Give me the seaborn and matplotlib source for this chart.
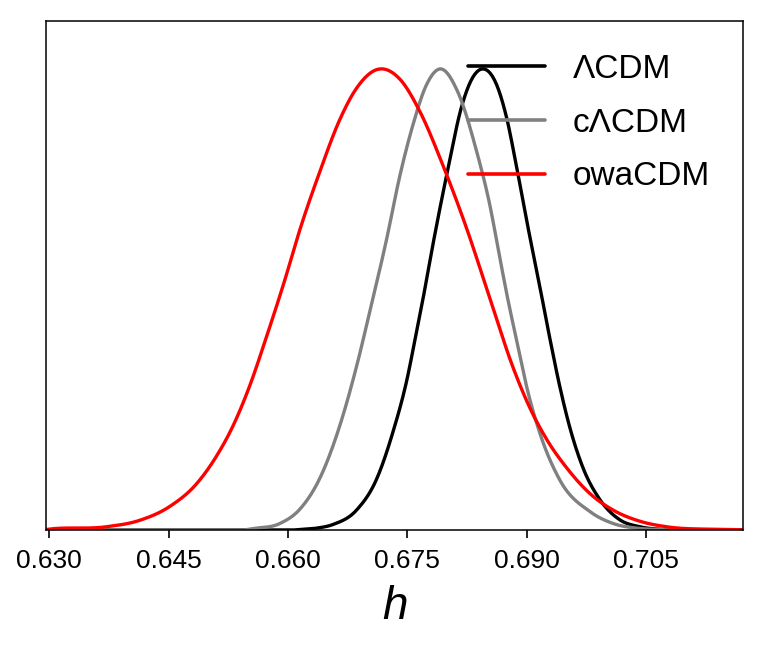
import matplotlib
matplotlib.use("Agg")
import matplotlib.pyplot as plt
import seaborn as sns
import pandas as pd
import numpy as np

# ---- data (h, normalised posterior) ----
lcdm_h = [0.6296, 0.6615, 0.6636, 0.66568, 0.66862, 0.67114, 0.67323, 0.67491, 0.67617, 0.6770,
          0.67826, 0.6801, 0.68183, 0.68328, 0.68447, 0.68623, 0.68748, 0.68874, 0.6900,
          0.69142, 0.69293, 0.69419, 0.69544, 0.69711, 0.69921, 0.70173, 0.70424, 0.70717, 0.7172]
lcdm_p = [0.0, 0.001, 0.004, 0.012, 0.043, 0.110, 0.214, 0.322, 0.430, 0.503,
          0.622, 0.782, 0.918, 0.983, 1.0, 0.966, 0.895, 0.788, 0.672,
          0.550, 0.415, 0.310, 0.222, 0.134, 0.066, 0.022, 0.007, 0.001, 0.0]

clcdm_h = [0.6296, 0.65562, 0.65898, 0.6615, 0.66401, 0.66652, 0.66862, 0.6703, 0.6724,
           0.67407, 0.67574, 0.67743, 0.6791, 0.68136, 0.68371, 0.68538, 0.68664, 0.68765,
           0.68874, 0.69016, 0.69167, 0.69419, 0.69796, 0.70089, 0.70383, 0.70676, 0.7172]
clcdm_p = [0.0, 0.003, 0.014, 0.045, 0.112, 0.226, 0.354, 0.474, 0.630,
           0.768, 0.880, 0.966, 1.0, 0.950, 0.822, 0.705, 0.590, 0.500,
           0.412, 0.300, 0.210, 0.108, 0.040, 0.014, 0.004, 0.001, 0.0]

owa_h = [0.6296, 0.63006, 0.63719, 0.64138, 0.64515, 0.64851, 0.65102, 0.65311, 0.65521,
         0.65731, 0.65961, 0.6615, 0.66401, 0.66652, 0.66862, 0.67155, 0.67407, 0.67658,
         0.67951, 0.68245, 0.68538, 0.68831, 0.69041, 0.69251, 0.69503, 0.69796, 0.70089,
         0.70424, 0.7076, 0.71342, 0.7172]
owa_p = [0.001, 0.002, 0.007, 0.021, 0.051, 0.100, 0.160, 0.226, 0.313,
         0.419, 0.542, 0.651, 0.777, 0.890, 0.958, 1.0, 0.978, 0.908,
         0.790, 0.655, 0.503, 0.352, 0.265, 0.197, 0.135, 0.079, 0.043,
         0.019, 0.007, 0.0015, 0.0005]

labels = ["ΛCDM", "cΛCDM", "owaCDM"]
colors = ["black", "#808080", "red"]
xticks = [0.630, 0.645, 0.660, 0.675, 0.690, 0.705]
xtick_labels = ["0.630", "0.645", "0.660", "0.675", "0.690", "0.705"]


def smooth_render(x, y, n=700):
    """Cubic Hermite rendering through the read points (drawing only)."""
    x = np.asarray(x, float)
    y = np.asarray(y, float)
    h = np.diff(x)
    d = np.diff(y) / h
    m = np.zeros_like(y)
    m[0], m[-1] = d[0], d[-1]
    for k in range(1, len(x) - 1):
        m[k] = (h[k] * d[k - 1] + h[k - 1] * d[k]) / (h[k - 1] + h[k])
    xs = np.linspace(x[0], x[-1], n)
    idx = np.clip(np.searchsorted(x, xs) - 1, 0, len(x) - 2)
    t = (xs - x[idx]) / h[idx]
    h00 = 2 * t**3 - 3 * t**2 + 1
    h10 = t**3 - 2 * t**2 + t
    h01 = -2 * t**3 + 3 * t**2
    h11 = t**3 - t**2
    ys = h00 * y[idx] + h10 * h[idx] * m[idx] + h01 * y[idx + 1] + h11 * h[idx] * m[idx + 1]
    return xs, np.clip(ys, 0, None)


frames = []
for lab, hs, ps in zip(labels, [lcdm_h, clcdm_h, owa_h], [lcdm_p, clcdm_p, owa_p]):
    xs, ys = smooth_render(hs, ps)
    frames.append(pd.DataFrame({"h": xs, "P": ys, "model": lab}))
df = pd.concat(frames, ignore_index=True)

sns.set_theme(style="ticks")
plt.rcParams["font.family"] = ["Liberation Sans", "DejaVu Sans"]
plt.rcParams["text.color"] = "black"
plt.rcParams["axes.labelcolor"] = "black"
plt.rcParams["xtick.color"] = "black"
plt.rcParams["xtick.labelcolor"] = "black"

fig = plt.figure(figsize=(7.66, 6.49), dpi=100)
ax = fig.add_axes([46 / 766, 1 - 530 / 649, 697 / 766, 509 / 649])

sns.lineplot(data=df, x="h", y="P", hue="model", hue_order=labels,
             palette=dict(zip(labels, colors)), sort=False, estimator=None,
             linewidth=2.4, ax=ax)

ax.set_xlim(0.6296, 0.7172)
ax.set_ylim(0, 1.104)
ax.set_xticks(xticks)
ax.set_xticklabels(xtick_labels, fontsize=19, color="black")
ax.set_yticks([])
ax.set_ylabel("")
ax.set_xlabel("h", fontsize=33, style="italic", labelpad=8, color="black")
ax.tick_params(axis="x", direction="out", length=6, width=1.2, pad=8, colors="black")
for sp in ax.spines.values():
    sp.set_visible(True)
    sp.set_color("black")
    sp.set_linewidth(1.1)

leg = ax.legend(loc="upper left", bbox_to_anchor=(0.6055, 0.935), frameon=False,
                fontsize=24, handlelength=2.3, handletextpad=0.85, labelspacing=0.68,
                borderpad=0, borderaxespad=0)
for line in leg.get_lines():
    line.set_linewidth(2.6)
for txt in leg.get_texts():
    txt.set_color("black")

fig.savefig("out.png", dpi=100)
